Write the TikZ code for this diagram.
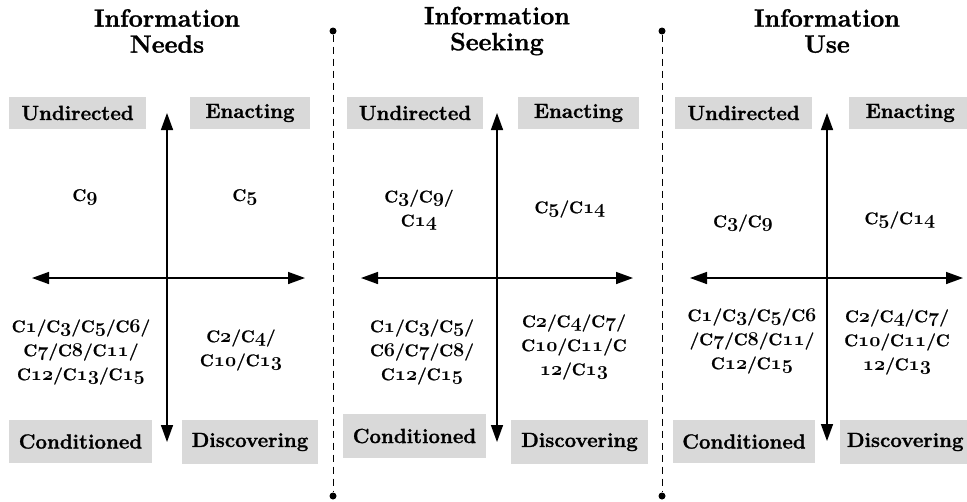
\RequirePackage{fix-cm}
\documentclass[tikz,border=0pt]{standalone}
\usepackage{fontspec}
\setmainfont{Latin Modern Roman}[BoldFeatures={FakeBold=1.2}]
\usetikzlibrary{arrows.meta}
\definecolor{labgray}{HTML}{D9D9D9}
\newcommand\dg[1]{{\fontsize{19.5}{24}\usefont{OML}{cmm}{b}{it}#1}}
\newcommand\cn[1]{C\dg{#1}}
\begin{document}
\begin{tikzpicture}[x=1pt,y=-1pt,
  box/.style={fill=labgray,inner sep=0pt,font=\fontsize{20.5}{24}\selectfont\bfseries},
  title/.style={align=center,font=\fontsize{25}{29}\selectfont\bfseries,inner sep=0pt},
  codes/.style={align=center,font=\fontsize{17}{24}\selectfont\bfseries,inner sep=0pt},
  axis/.style={line width=1.5pt,{Triangle[length=17pt,width=12pt]}-{Triangle[length=17pt,width=12pt]}},
  divider/.style={line width=1pt,dash pattern=on 7pt off 5pt},
  dotend/.style={circle,fill=black,inner sep=0pt,minimum size=7pt}]
\useasboundingbox (0,0) rectangle (967,501);

% ---------- Panel 1 ----------
\node[title] (t1) at (167,31) {Information\\[-3pt]Needs};
\node[box,minimum width=137pt,minimum height=32pt] (u1) at (77.5,113) {Undirected};
\node[box,minimum width=120pt,minimum height=32pt] (e1) at (250,113) {Enacting};
\node[box,minimum width=143pt,minimum height=43pt] (c1) at (80.5,441.5) {Conditioned};
\node[box,minimum width=136pt,minimum height=44pt] (d1) at (250,442) {Discovering};
\coordinate (v1t) at (167,113); \coordinate (v1b) at (167,442);
\coordinate (h1l) at (32,278); \coordinate (h1r) at (305,278);
\draw[axis] (v1b) -- (v1t);
\draw[axis] (h1l) -- (h1r);
\node[codes] (q1a) at (85,197) {\cn{9}};
\node[codes] (q1b) at (245,197) {\cn{5}};
\node[codes] (q1c) at (81,352) {\cn{1}/\cn{3}/\cn{5}/\cn{6}/\\\cn{7}/\cn{8}/\cn{11}/\\\cn{12}/\cn{13}/\cn{15}};
\node[codes] (q1d) at (241,350) {\cn{2}/\cn{4}/\\\cn{10}/\cn{13}};

% ---------- divider 1 ----------
\node[dotend] (a1) at (333,31) {};
\node[dotend] (b1) at (333,496) {};
\draw[divider] (a1) -- (b1);

% ---------- Panel 2 ----------
\node[title] (t2) at (497,31) {Information\\[-3pt]Seeking};
\node[box,minimum width=136pt,minimum height=32pt] (u2) at (415,113) {Undirected};
\node[box,minimum width=121pt,minimum height=32pt] (e2) at (578.5,113) {Enacting};
\node[box,minimum width=143pt,minimum height=44pt] (c2) at (414.5,436) {Conditioned};
\node[box,minimum width=137pt,minimum height=44pt] (d2) at (579.5,442) {Discovering};
\coordinate (v2t) at (497,113); \coordinate (v2b) at (497,442);
\coordinate (h2l) at (361,278); \coordinate (h2r) at (633,278);
\draw[axis] (v2b) -- (v2t);
\draw[axis] (h2l) -- (h2r);
\node[codes] (q2a) at (419,210) {\cn{3}/\cn{9}/\\\cn{14}};
\node[codes] (q2b) at (570,209) {\cn{5}/\cn{14}};
\node[codes] (q2c) at (422,352) {\cn{1}/\cn{3}/\cn{5}/\\\cn{6}/\cn{7}/\cn{8}/\\\cn{12}/\cn{15}};
\node[codes] (q2d) at (574,347) {\cn{2}/\cn{4}/\cn{7}/\\\cn{10}/\cn{11}/C\\\dg{12}/\cn{13}};

% ---------- divider 2 ----------
\node[dotend] (a2) at (662,31) {};
\node[dotend] (b2) at (662,496) {};
\draw[divider] (a2) -- (b2);

% ---------- Panel 3 ----------
\node[title] (t3) at (827,31) {Information\\[-3pt]Use};
\node[box,minimum width=137pt,minimum height=32pt] (u3) at (743.5,113) {Undirected};
\node[box,minimum width=122pt,minimum height=32pt,anchor=west] (e3) at (849,113) {Enacting};
\node[box,minimum width=142pt,minimum height=43pt] (c3) at (744,441.5) {Conditioned};
\node[box,minimum width=130pt,minimum height=44pt,anchor=west] (d3) at (840,442) {Discovering};
\coordinate (v3t) at (827,113); \coordinate (v3b) at (827,441);
\coordinate (h3l) at (690,278); \coordinate (h3r) at (963,278);
\draw[axis] (v3b) -- (v3t);
\draw[axis] (h3l) -- (h3r);
\node[codes] (q3a) at (743,223) {\cn{3}/\cn{9}};
\node[codes] (q3b) at (900,220) {\cn{5}/\cn{14}};
\node[codes] (q3c) at (752,341) {\cn{1}/\cn{3}/\cn{5}/\cn{6}\\/\cn{7}/\cn{8}/\cn{11}/\\\cn{12}/\cn{15}};
\node[codes] (q3d) at (897,342) {\cn{2}/\cn{4}/\cn{7}/\\\cn{10}/\cn{11}/C\\\dg{12}/\cn{13}};
\end{tikzpicture}
\end{document}
